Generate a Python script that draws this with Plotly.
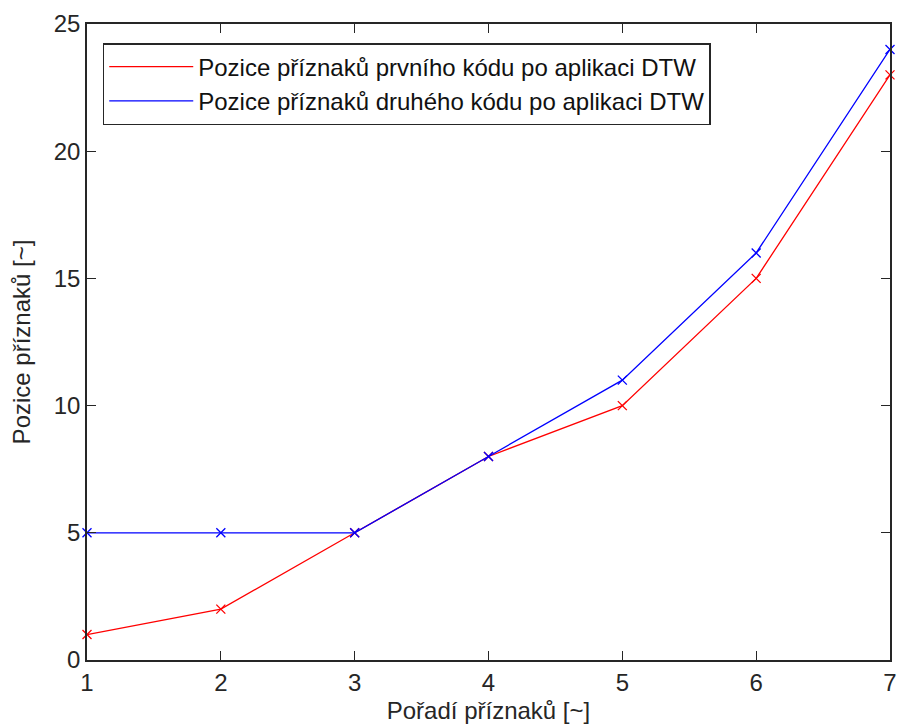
import plotly.graph_objects as go

poradi = [1, 2, 3, 4, 5, 6, 7]
pozice_prvni = [1, 2, 5, 8, 10, 15, 23]
pozice_druhy = [5, 5, 5, 8, 11, 16, 24]
nazev_prvni = "Pozice příznaků prvního kódu po aplikaci DTW"
nazev_druhy = "Pozice příznaků druhého kódu po aplikaci DTW"
x_ticks = [1, 2, 3, 4, 5, 6, 7]
y_ticks = [0, 5, 10, 15, 20, 25]

FS = 24
fig = go.Figure()
for ys, name, col in [(pozice_prvni, nazev_prvni, "#ff0000"), (pozice_druhy, nazev_druhy, "#0000ff")]:
    fig.add_trace(go.Scatter(x=poradi, y=ys, mode="lines", name=name,
                             line=dict(color=col, width=1.3)))
    fig.add_trace(go.Scatter(x=poradi, y=ys, mode="markers", showlegend=False,
                             cliponaxis=False,
                             marker=dict(symbol="x-thin", size=9, color=col,
                                         line=dict(color=col, width=1.3))))

axis_common = dict(showgrid=False, zeroline=False, showline=True, mirror="ticks",
                   linecolor="#262626", linewidth=1.5, ticks="inside", ticklen=9,
                   tickwidth=1.3, tickcolor="#262626",
                   tickfont=dict(family="Liberation Sans, Arial", size=FS, color="#262626"))

fig.update_layout(
    width=905, height=728,
    margin=dict(l=87, r=8, t=24, b=66),
    paper_bgcolor="white", plot_bgcolor="white",
    font=dict(family="Liberation Sans, Arial", size=FS, color="#262626"),
    xaxis=dict(range=[1, 7], tickvals=x_ticks,
               title=dict(text="Pořadí příznaků [~]", standoff=8,
                          font=dict(size=FS, color="#262626")),
               **axis_common),
    yaxis=dict(range=[0, 25], tickvals=y_ticks,
               title=dict(text="Pozice příznaků [~]", standoff=16,
                          font=dict(size=FS, color="#262626")),
               **axis_common),
    legend=dict(x=0.0196, y=0.970, xanchor="left", yanchor="top",
                bordercolor="#262626", borderwidth=1.5, bgcolor="white",
                itemwidth=84,
                font=dict(size=FS, color="#111111"), tracegroupgap=0),
    showlegend=True,
)

fig.write_html("out.html", config={"displayModeBar": False},
               post_script="document.body.style.margin='0';document.body.style.overflow='hidden';")
